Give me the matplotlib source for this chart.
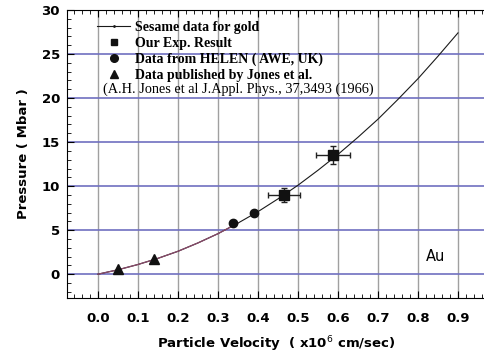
import numpy as np
from matplotlib import pyplot as plt
from matplotlib.lines import Line2D
from matplotlib.ticker import MultipleLocator

# Sesame curve for gold
sesame_u = [0.0, 0.05, 0.1, 0.15, 0.2, 0.25, 0.3, 0.35, 0.4, 0.45,
            0.5, 0.55, 0.6, 0.65, 0.7, 0.75, 0.8, 0.85, 0.9]
sesame_p = [0.0, 0.5, 1.1, 1.8, 2.6, 3.55, 4.6, 5.8, 7.1, 8.55,
            10.1, 11.8, 13.6, 15.55, 17.6, 19.85, 22.2, 24.75, 27.4]

# our experiment
exp_u = [0.465, 0.587]
exp_p = [9.0, 13.5]
exp_uerr = [0.04, 0.043]
exp_perr = [0.8, 1.0]

# HELEN (AWE, UK)
helen_u = [0.338, 0.389]
helen_p = [5.8, 7.0]

# Jones et al.
jones_u = [0.05, 0.14]
jones_p = [0.55, 1.7]

plt.rcParams['font.family'] = ['DejaVu Sans']
fig = plt.figure(figsize=(4.85, 3.56), dpi=100)
ax = fig.add_axes([0.138, 0.163, 0.862, 0.809])

ax.set_xlim(-0.0775, 0.9675)
ax.set_ylim(-2.7, 30)

for x in np.arange(0.0, 0.95, 0.1):
    ax.axvline(x, color='#a0a0a0', lw=1.0, zorder=1)
for y in range(0, 30, 5):
    ax.axhline(y, color='#7070c0', lw=1.2, zorder=1)

ax.plot(sesame_u, sesame_p, color='#1a1a1a', lw=0.8, zorder=3)
ax.plot(sesame_u[:8], sesame_p[:8], color='#8a4a6a', lw=0.9, zorder=3)

sq = ax.errorbar(exp_u, exp_p, xerr=exp_uerr, yerr=exp_perr, fmt='s', color='#111111',
                 markersize=6.5, ecolor='#222222', elinewidth=1.0, capsize=2.5, zorder=4)
ax.plot(helen_u, helen_p, 'o', color='#111111', markersize=6, zorder=4)
ax.plot(jones_u, jones_p, '^', color='#111111', markersize=7.5, zorder=4)

handles = [Line2D([], [], color='#1a1a1a', lw=0.8, marker='.', markersize=2),
           Line2D([], [], ls='none', marker='s', color='#111111', markersize=5),
           Line2D([], [], ls='none', marker='o', color='#111111', markersize=5.5),
           Line2D([], [], ls='none', marker='^', color='#111111', markersize=6)]
leg = ax.legend(handles,
                ['Sesame data for gold', 'Our Exp. Result', 'Data from HELEN ( AWE, UK)',
                 'Data published by Jones et al.'],
                loc='upper left', bbox_to_anchor=(0.072, 0.962), frameon=False,
                handlelength=2.4, handletextpad=0.3, labelspacing=0.2, borderaxespad=0,
                borderpad=0, prop={'family': 'Liberation Serif', 'weight': 'bold', 'size': 10})
ax.text(0.0125, 21.0, '(A.H. Jones et al J.Appl. Phys., 37,3493 (1966)',
        family='Liberation Serif', fontsize=10.3, va='center', ha='left')

ax.text(0.82, 2.0, 'Au', fontsize=10.5, va='center', ha='left')

ax.set_xticks(np.arange(0.0, 0.95, 0.1))
ax.set_xticklabels(['%.1f' % v for v in np.arange(0.0, 0.95, 0.1)])
ax.set_yticks(range(0, 31, 5))
ax.xaxis.set_minor_locator(MultipleLocator(0.02))
ax.yaxis.set_minor_locator(MultipleLocator(1))
ax.tick_params(which='both', direction='in', top=True, right=False, labelsize=9.5, pad=10)
ax.tick_params(which='major', length=5)
ax.tick_params(which='minor', length=3)
ax.tick_params(axis='y', pad=5)
for lab in ax.get_xticklabels() + ax.get_yticklabels():
    lab.set_fontweight('bold')
ax.spines['right'].set_visible(False)

ax.set_xlabel('Particle Velocity  ( x10$^6$ cm/sec)', fontsize=9.5, fontweight='bold', labelpad=7)
ax.set_ylabel('Pressure ( Mbar )', fontsize=9.5, fontweight='bold', labelpad=8)

plt.savefig('out.png', dpi=100)
plt.close()
